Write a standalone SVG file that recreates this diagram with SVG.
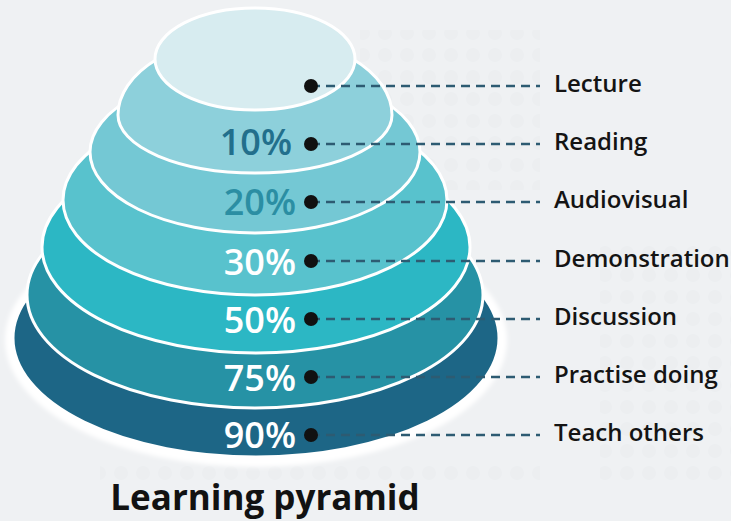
<svg xmlns="http://www.w3.org/2000/svg" width="731" height="521" viewBox="0 0 731 521">
<defs>
<style>
.layer{stroke:#ffffff;stroke-width:3}
.pct{font-family:"Open Sans","Liberation Sans",sans-serif;font-weight:600;font-size:36px;text-anchor:end}
.lbl{font-family:"Open Sans","Liberation Sans",sans-serif;font-weight:600;font-size:24px;fill:#141414}
.dash{stroke:#2d5b72;stroke-width:2.5;stroke-dasharray:9 6;fill:none}
.dot{fill:#111111}
</style>
<filter id="soft" x="-10%" y="-10%" width="120%" height="120%"><feGaussianBlur stdDeviation="2"/></filter>
<pattern id="dots" width="22" height="22" patternUnits="userSpaceOnUse"><circle cx="11" cy="11" r="7" fill="#e4e7ea"/></pattern>
</defs>
<rect width="731" height="521" fill="#eff1f3"/>
<rect x="360" y="30" width="180" height="160" fill="url(#dots)" opacity="0.3"/>
<rect x="600" y="240" width="131" height="240" fill="url(#dots)" opacity="0.3"/>
<rect x="100" y="462" width="440" height="24" fill="url(#dots)" opacity="0.3"/>
<ellipse cx="256" cy="340" rx="251" ry="127" fill="#ffffff" filter="url(#soft)"/>
<g id="layer-90">
<ellipse class="layer" cx="256" cy="338" rx="243" ry="119" fill="#1d6686"/>
<text class="pct" x="296" y="448" fill="#ffffff">90%</text>
</g>
<g id="layer-75">
<ellipse class="layer" cx="255" cy="295" rx="228" ry="113" fill="#2692a5"/>
<text class="pct" x="296" y="391" fill="#ffffff">75%</text>
</g>
<g id="layer-50">
<ellipse class="layer" cx="256" cy="247" rx="214" ry="106" fill="#2cb7c4"/>
<text class="pct" x="296" y="333" fill="#ffffff">50%</text>
</g>
<g id="layer-30">
<ellipse class="layer" cx="255" cy="200" rx="192" ry="95" fill="#58c2cd"/>
<text class="pct" x="296" y="275" fill="#ffffff">30%</text>
</g>
<g id="layer-20">
<ellipse class="layer" cx="255" cy="152" rx="165" ry="81" fill="#74c8d4"/>
<text class="pct" x="296" y="215" fill="#2b8ea3">20%</text>
</g>
<g id="layer-10">
<path class="layer" d="M118,115 A137,80 0 0 1 392,115 A137,58 0 0 1 118,115 Z" fill="#8dd0db"/>
<text class="pct" x="292" y="155" fill="#226f8c">10%</text>
</g>
<g id="layer-top">
<ellipse class="layer" cx="255" cy="59" rx="100" ry="51" fill="#d7ecf0"/>
</g>
<g id="connectors">
<line class="dash" x1="311" y1="86" x2="540" y2="86"/>
<line class="dash" x1="311" y1="144" x2="540" y2="144"/>
<line class="dash" x1="311" y1="202" x2="540" y2="202"/>
<line class="dash" x1="311" y1="261" x2="540" y2="261"/>
<line class="dash" x1="311" y1="319" x2="540" y2="319"/>
<line class="dash" x1="311" y1="377" x2="540" y2="377"/>
<line class="dash" x1="311" y1="435" x2="540" y2="435"/>
<circle class="dot" cx="311" cy="86" r="7"/>
<circle class="dot" cx="311" cy="144" r="7"/>
<circle class="dot" cx="311" cy="202" r="7"/>
<circle class="dot" cx="311" cy="261" r="7"/>
<circle class="dot" cx="311" cy="319" r="7"/>
<circle class="dot" cx="311" cy="377" r="7"/>
<circle class="dot" cx="311" cy="435" r="7"/>
</g>
<g id="label-lecture"><text class="lbl" x="554" y="92">Lecture</text></g>
<g id="label-reading"><text class="lbl" x="554" y="150">Reading</text></g>
<g id="label-audiovisual"><text class="lbl" x="554" y="208">Audiovisual</text></g>
<g id="label-demonstration"><text class="lbl" x="554" y="267">Demonstration</text></g>
<g id="label-discussion"><text class="lbl" x="554" y="325">Discussion</text></g>
<g id="label-practise"><text class="lbl" x="554" y="383">Practise doing</text></g>
<g id="label-teach"><text class="lbl" x="554" y="441">Teach others</text></g>
<g id="title"><text x="265" y="510" text-anchor="middle" font-family="Open Sans, Liberation Sans, sans-serif" font-weight="700" font-size="35" fill="#121212">Learning pyramid</text></g>
</svg>
